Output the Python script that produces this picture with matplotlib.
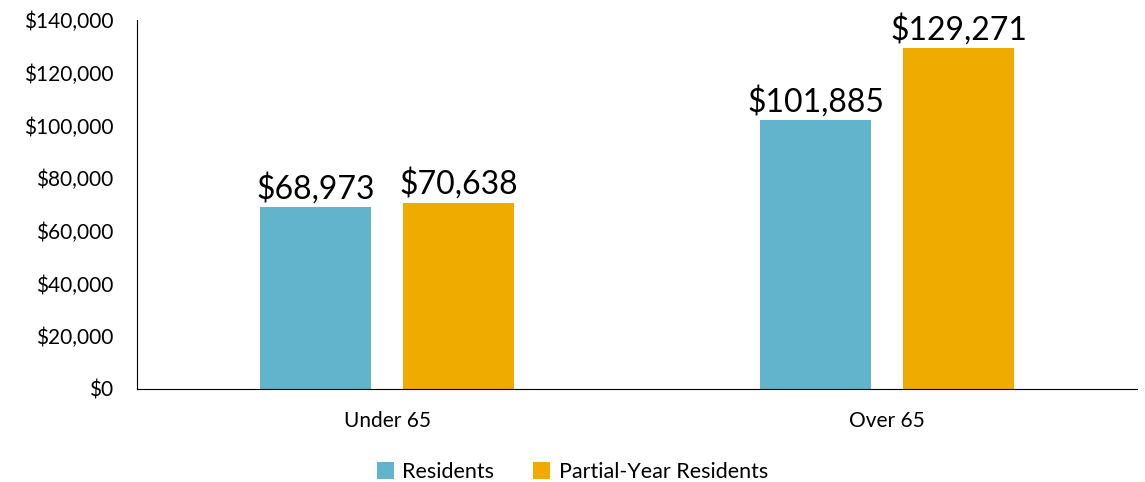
import numpy as np
import matplotlib.pyplot as plt
from matplotlib.ticker import FuncFormatter

plt.rcParams['font.family'] = ['Lato', 'DejaVu Sans']

categories = ['Under 65', 'Over 65']
series_names = ['Residents', 'Partial-Year Residents']
residents = [68973, 101885]
partial_year = [70638, 129271]
colors = ['#62B4CC', '#F0AB00']

fig = plt.figure(figsize=(11.45, 4.82), dpi=100)
ax = fig.add_axes([0.1197, 0.193, 0.8733, 0.7655])

x = np.arange(len(categories))
w = 0.222
off = 0.143
for vals, dx, name, c in [(residents, -off, series_names[0], colors[0]),
                          (partial_year, off, series_names[1], colors[1])]:
    bars = ax.bar(x + dx, vals, width=w, color=c, label=name)
    for b, v in zip(bars, vals):
        ax.text(b.get_x() + b.get_width() / 2, v + 1200, f'${v:,}',
                ha='center', va='bottom', fontsize=23)

ax.set_xlim(-0.5, 1.5)
ax.set_ylim(0, 140000)
ax.set_yticks(np.arange(0, 140001, 20000))
ax.yaxis.set_major_formatter(FuncFormatter(lambda v, p: f'${v:,.0f}'))
ax.set_xticks(x)
ax.set_xticklabels(categories)
ax.tick_params(axis='both', length=0, labelsize=15)
ax.tick_params(axis='y', pad=17)
ax.tick_params(axis='x', pad=16)
for s in ['top', 'right']:
    ax.spines[s].set_visible(False)

fig.legend(loc='lower center', ncol=2, frameon=False, fontsize=15.5,
           bbox_to_anchor=(0.5, -0.04), handlelength=0.8, handleheight=0.8,
           columnspacing=1.8, handletextpad=0.4)

fig.savefig('out.png', dpi=100)
